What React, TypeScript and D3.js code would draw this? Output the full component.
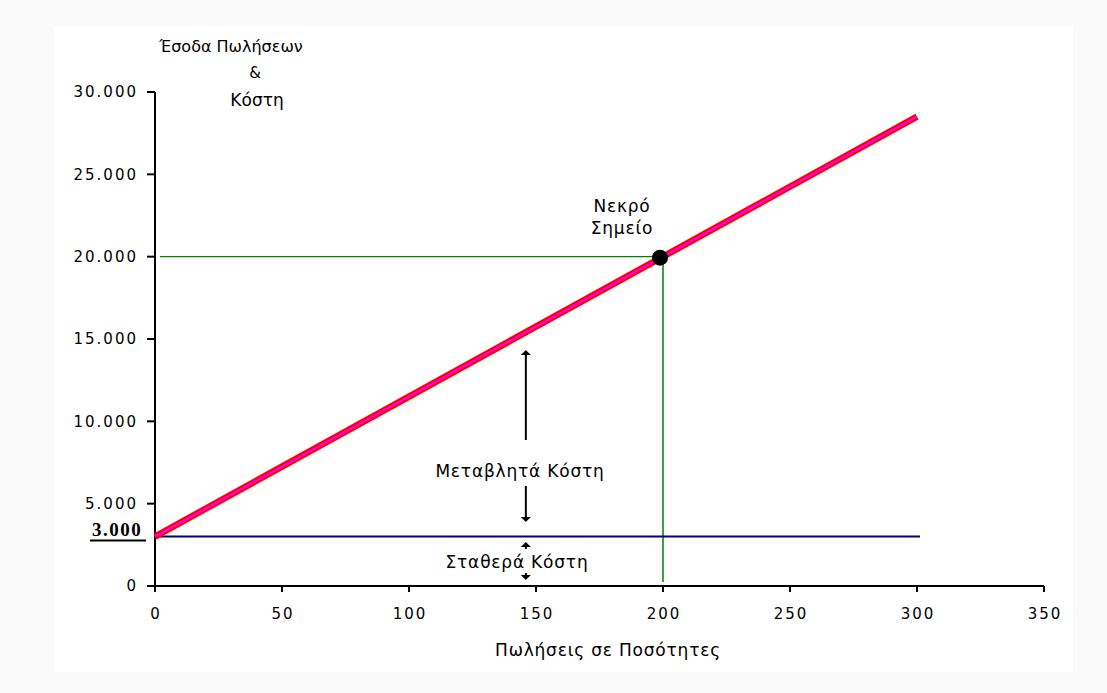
import React from "react";
import * as d3 from "d3";

const xTicks = [0, 50, 100, 150, 200, 250, 300, 350];
const yTicks = [0, 5000, 10000, 15000, 20000, 25000, 30000];
const quantities = [0, 300];
const totalCost = [3000, 28500];
const fixedCost = 3000;
const breakEvenQ = 200;
const breakEvenValue = 20000;
const yTitleLines = ["Έσοδα Πωλήσεων", "&", "Κόστη"];
const xTitle = "Πωλήσεις σε Ποσότητες";
const breakEvenLabel = ["Νεκρό", "Σημείο"];
const variableLabel = "Μεταβλητά Κόστη";
const fixedLabel = "Σταθερά Κόστη";

const W = 1107;
const H = 693;

export default function App() {
  const x = d3.scaleLinear().domain([0, 350]).range([155, 1044]);
  const y = d3.scaleLinear().domain([0, 30000]).range([586, 92]);
  const fmt = d3
    .formatLocale({ decimal: ",", thousands: ".", grouping: [3], currency: ["", ""] })
    .format(",");

  const line = d3
    .line<number>()
    .x((_, i) => x(quantities[i]))
    .y((d) => y(d));
  const costPath = line(totalCost) || "";

  const tickFont = "'DejaVu Sans', sans-serif";
  const arrowX = x(146);

  const arrowHead = (tx: number, ty: number, dir: number) =>
    `M${tx},${ty} L${tx - 5},${ty + dir * 5} L${tx + 5},${ty + dir * 5} Z`;

  return (
    <svg
      width={W}
      height={H}
      style={{ position: "absolute", left: 0, top: 0, display: "block" }}
      fontFamily={tickFont}
    >
      <rect x={0} y={0} width={W} height={H} fill="#fafafa" />
      <rect x={54} y={26} width={1019} height={646} fill="#ffffff" />

      {/* y-axis title */}
      <text x={231} y={52} fontSize={16} textAnchor="middle" fill="#000">
        {yTitleLines[0]}
      </text>
      <text x={255} y={78} fontSize={15} textAnchor="middle" fill="#000">
        {yTitleLines[1]}
      </text>
      <text x={257} y={106} fontSize={17} textAnchor="middle" fill="#000">
        {yTitleLines[2]}
      </text>

      {/* guide lines */}
      <line
        x1={x(0) + 5}
        x2={x(breakEvenQ)}
        y1={y(breakEvenValue)}
        y2={y(breakEvenValue)}
        stroke="#008000"
        strokeWidth={1.2}
      />
      <line
        x1={x(breakEvenQ)}
        x2={x(breakEvenQ)}
        y1={y(breakEvenValue)}
        y2={y(0) - 4}
        stroke="#008000"
        strokeWidth={1.5}
      />
      <line
        x1={x(0)}
        x2={x(300) + 3}
        y1={y(fixedCost)}
        y2={y(fixedCost)}
        stroke="#000080"
        strokeWidth={2}
      />

      {/* axes */}
      <line x1={x(0)} x2={x(0)} y1={y(30000)} y2={y(0) + 6} stroke="#000" strokeWidth={2} />
      <line x1={x(0) - 7} x2={x(350)} y1={y(0)} y2={y(0)} stroke="#000" strokeWidth={2} />
      {yTicks.map((t) => (
        <g key={"y" + t}>
          <line x1={x(0) - 8} x2={x(0)} y1={y(t)} y2={y(t)} stroke="#000" strokeWidth={2} />
          <text
            x={138}
            y={y(t)}
            dy="0.36em"
            fontSize={15}
            letterSpacing={2}
            textAnchor="end"
            fill="#000"
          >
            {fmt(t)}
          </text>
        </g>
      ))}
      {xTicks.map((t) => (
        <g key={"x" + t}>
          <line x1={x(t)} x2={x(t)} y1={y(0)} y2={y(0) + 6} stroke="#000" strokeWidth={2} />
          <text
            x={x(t) + 1}
            y={619}
            fontSize={15}
            letterSpacing={2}
            textAnchor="middle"
            fill="#000"
          >
            {t}
          </text>
        </g>
      ))}

      {/* special 3.000 label */}
      <text
        x={117}
        y={536}
        fontSize={19}
        fontWeight="bold"
        fontFamily="'Liberation Serif', serif"
        letterSpacing={1.5}
        textAnchor="middle"
        fill="#000"
      >
        {fmt(fixedCost)}
      </text>
      <line x1={90} x2={146} y1={540.5} y2={540.5} stroke="#000" strokeWidth={2} />

      {/* total cost line */}
      <path d={costPath} fill="none" stroke="#ff0000" strokeWidth={6.5} />
      <path d={costPath} fill="none" stroke="#ff00ff" strokeWidth={2} />

      {/* break-even point */}
      <circle cx={x(breakEvenQ) - 3} cy={y(breakEvenValue) + 1} r={8} fill="#000" />
      <text x={622} y={212} fontSize={17} letterSpacing={0.8} textAnchor="middle" fill="#000">
        {breakEvenLabel[0]}
      </text>
      <text x={622} y={234} fontSize={17} letterSpacing={0.8} textAnchor="middle" fill="#000">
        {breakEvenLabel[1]}
      </text>

      {/* variable cost arrows */}
      <line x1={arrowX} x2={arrowX} y1={352} y2={440} stroke="#000" strokeWidth={2} />
      <path d={arrowHead(arrowX, 350, 1)} fill="#000" />
      <line x1={arrowX} x2={arrowX} y1={486} y2={520} stroke="#000" strokeWidth={2} />
      <path d={arrowHead(arrowX, 522, -1)} fill="#000" />
      <text x={520} y={477} fontSize={17} letterSpacing={0.8} textAnchor="middle" fill="#000">
        {variableLabel}
      </text>

      {/* fixed cost arrows */}
      <line x1={arrowX} x2={arrowX} y1={544} y2={549} stroke="#000" strokeWidth={2} />
      <path d={arrowHead(arrowX, 542, 1)} fill="#000" />
      <line x1={arrowX} x2={arrowX} y1={573} y2={578} stroke="#000" strokeWidth={2} />
      <path d={arrowHead(arrowX, 580, -1)} fill="#000" />
      <text x={517} y={568} fontSize={17} letterSpacing={0.8} textAnchor="middle" fill="#000">
        {fixedLabel}
      </text>

      {/* x-axis title */}
      <text x={608} y={656} fontSize={17} letterSpacing={0.8} textAnchor="middle" fill="#000">
        {xTitle}
      </text>
    </svg>
  );
}
